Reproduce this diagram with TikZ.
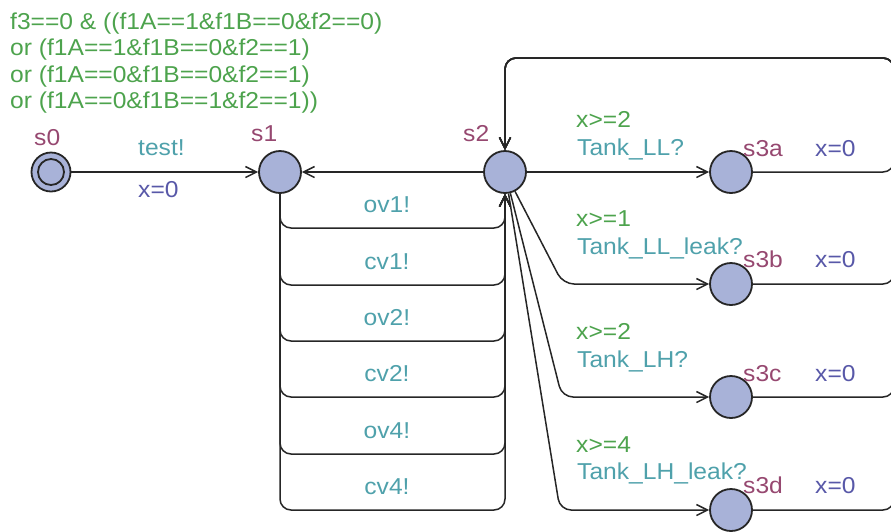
\documentclass[tikz,border=0pt]{standalone}
\usepackage{fontspec}
\setmainfont{Liberation Sans}[FakeStretch=1.07]
\usetikzlibrary{arrows.meta}
\definecolor{guardc}{RGB}{77,163,77}
\definecolor{syncc}{RGB}{79,161,171}
\definecolor{assignc}{RGB}{88,88,168}
\definecolor{namec}{RGB}{150,72,112}
\definecolor{locfill}{RGB}{168,178,216}
\tikzset{
  every node/.append style={font=\fontsize{23}{26}\selectfont},
  loc/.style={circle, draw=black!85, line width=1.8pt, fill=locfill, minimum size=42pt, inner sep=0pt},
  edge/.style={draw=black!85, line width=1.5pt, rounded corners=11pt, -{Straight Barb[length=11pt,width=11pt]}},
  lbl/.style={anchor=base west, inner sep=0pt},
  guard/.style={lbl, text=guardc},
  sync/.style={lbl, text=syncc},
  assign/.style={lbl, text=assignc},
  lname/.style={lbl, text=namec}
}
\begin{document}
\begin{tikzpicture}[x=1pt, y=-1pt]
\useasboundingbox (0,0) rectangle (891,531);
% locations
\node[loc, minimum size=39pt] (s0) at (51,172) {};
\draw[black!85, line width=1.8pt] (s0.center) circle (13pt);
\node[loc] (s1) at (280,172) {};
\node[loc] (s2) at (505,172) {};
\node[loc] (s3a) at (731,172) {};
\node[loc] (s3b) at (731,284) {};
\node[loc] (s3c) at (731,397) {};
\node[loc] (s3d) at (731,510) {};
% location names
\node[lname] (n0) at (34,145) {s0};
\node[lname] (n1) at (251,141) {s1};
\node[lname] (n2) at (463,141) {s2};
\node[lname] (n3a) at (743,156) {s3a};
\node[lname] (n3b) at (743,267) {s3b};
\node[lname] (n3c) at (743,381) {s3c};
\node[lname] (n3d) at (743,493) {s3d};
% guard of s0 -> s1
\node[guard] (g1) at (10,29) {f3==0 \& ((f1A==1\&f1B==0\&f2==0)};
\node[guard] (g2) at (10,55.5) {or (f1A==1\&f1B==0\&f2==1)};
\node[guard] (g3) at (10,82) {or (f1A==0\&f1B==0\&f2==1)};
\node[guard] (g4) at (10,108.5) {or (f1A==0\&f1B==1\&f2==1))};
% s0 -> s1
\draw[edge] (s0) -- (s1);
\node[sync] (t0) at (138,155) {test!};
\node[assign] (a0) at (138,197) {x=0};
% s2 -> s1
\draw[edge] (s2) -- (s1);
% s1 -> s2 loops
\foreach \yy/\name in {228/ov1!, 285/cv1!, 341/ov2!, 397/cv2!, 454/ov4!, 510/cv4!}{
  \draw[edge] (s1) -- (280,\yy) -- (505,\yy) -- (s2);
  \node[sync, anchor=base] at (387,\yy-16) {\name};
}
% s2 -> s3x
\draw[edge] (s2) -- (s3a);
\draw[edge] (s2) -- (563,284) -- (s3b);
\draw[edge] (s2) -- (562,397) -- (s3c);
\draw[edge] (s2) -- (560,510) -- (s3d);
\node[guard] (ga) at (576,127) {x>=2};
\node[sync] (ta) at (577,155) {Tank\_LL?};
\node[guard] (gb) at (576,226) {x>=1};
\node[sync] (tb) at (577,254) {Tank\_LL\_leak?};
\node[guard] (gc) at (576,339) {x>=2};
\node[sync] (tc) at (577,367) {Tank\_LH?};
\node[guard] (gd) at (576,452) {x>=4};
\node[sync] (td) at (577,479) {Tank\_LH\_leak?};
% s3x -> s2
\draw[edge] (s3a) -- (894,172) -- (894,58) -- (505,58) -- (s2);
\draw[edge] (s3b) -- (894,284) -- (894,58) -- (505,58) -- (s2);
\draw[edge] (s3c) -- (894,397) -- (894,58) -- (505,58) -- (s2);
\draw[edge] (s3d) -- (894,510) -- (894,58) -- (505,58) -- (s2);
\node[assign] (aa) at (815,156) {x=0};
\node[assign] (ab) at (815,267) {x=0};
\node[assign] (ac) at (815,381) {x=0};
\node[assign] (ad) at (815,493) {x=0};
\end{tikzpicture}
\end{document}
